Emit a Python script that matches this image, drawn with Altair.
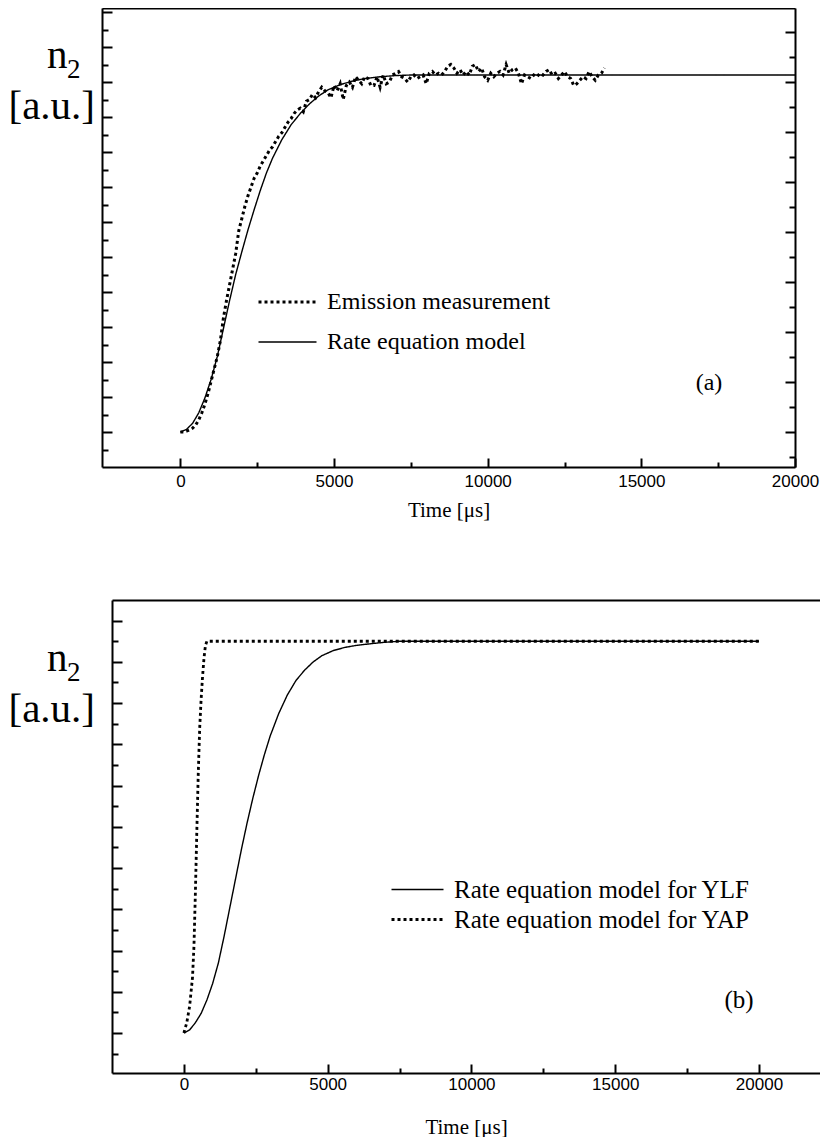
import altair as alt
import pandas as pd

SERIF = "Liberation Serif"
SANS = "Liberation Sans"

# ---------------- Panel (a) data ----------------
SERIES_A = ["Emission measurement", "Rate equation model"]
T_MODEL_A = [0, 200, 400, 600, 800, 1000, 1200, 1400, 1600, 1800, 2000, 2200, 2400, 2600,
             2800, 3000, 3300, 3600, 3900, 4200, 4500, 4800, 5200, 5600, 6000, 6500, 7000,
             7500, 20000]
V_MODEL_A = [0, 0.15, 0.5, 1.1, 1.95, 3.0, 4.3, 5.9, 7.5, 9.0, 10.3, 11.55, 12.7, 13.8,
             14.8, 15.65, 16.7, 17.55, 18.2, 18.75, 19.2, 19.55, 19.85, 20.05, 20.2, 20.3, 20.37,
             20.4, 20.4]
T_MEAS_A = list(range(0, 13801, 100))
V_MEAS_A = [
    0.0, 0.0, 0.05, 0.12, 0.22, 0.4, 0.7, 1.1, 1.6, 2.2,
    2.9, 3.6, 4.3, 5.2, 6.5, 7.5, 8.4, 9.3, 10.2, 11.5,
    12.2, 12.9, 13.5, 14.0, 14.5, 14.8, 15.2, 15.5, 15.8, 16.1,
    16.3, 16.6, 16.9, 17.1, 17.4, 17.7, 17.9, 18.2, 18.4, 18.5,
    18.3, 18.9, 19.0, 19.3, 19.1, 19.45, 19.7, 19.5, 19.4, 19.1,
    19.8, 19.5, 19.9, 19.0, 19.8, 20.0, 19.7, 20.3, 20.1, 19.9,
    20.3, 20.2, 19.8, 19.8, 20.3, 19.7, 20.4, 19.9, 20.0, 20.4,
    20.5, 20.6, 20.3, 20.2, 20.0, 20.3, 20.4, 20.2, 20.3, 20.4,
    19.9, 20.5, 20.6, 20.4, 20.5, 20.4, 20.6, 20.9, 21.0, 20.8,
    20.5, 20.7, 20.4, 20.6, 20.4, 20.9, 21.0, 20.6, 20.8, 20.3,
    20.1, 20.5, 20.3, 20.5, 20.6, 20.4, 21.0, 20.5, 20.7, 20.8,
    20.5, 19.9, 20.4, 20.3, 20.2, 20.4, 20.3, 20.5, 20.4, 20.6,
    20.7, 20.4, 20.5, 20.2, 20.4, 20.6, 20.3, 20.2, 19.8, 19.9,
    20.1, 20.3, 20.2, 20.6, 20.3, 20.1, 20.4, 20.5, 20.8,
]
assert len(T_MEAS_A) == len(V_MEAS_A)

# ---------------- Panel (b) data ----------------
SERIES_B = ["Rate equation model for YLF", "Rate equation model for YAP"]
T_YLF = [0, 200, 400, 600, 800, 1000, 1200, 1400, 1600, 1800, 2000, 2200, 2400, 2600, 2800,
         3000, 3300, 3600, 3900, 4200, 4500, 4800, 5200, 5600, 6000, 6500, 7000, 7500, 20000]
V_YLF = [0, 0.15, 0.5, 0.95, 1.6, 2.4, 3.4, 4.7, 6.1, 7.5, 8.9, 10.2, 11.4, 12.5, 13.5,
         14.4, 15.5, 16.4, 17.1, 17.6, 18.0, 18.3, 18.55, 18.7, 18.8, 18.88, 18.95, 19.0, 19.0]
T_YAP = [0, 100, 200, 300, 350, 400, 450, 500, 550, 600, 650, 700, 750, 800, 20000]
V_YAP = [0, 0.5, 1.3, 2.7, 4.2, 6.8, 9.8, 12.6, 14.8, 16.2, 17.3, 18.2, 18.8, 19.0, 19.0]

# ---------------- axis tick values ----------------
X_LABELS = [0, 5000, 10000, 15000, 20000]
X_TICKS = [0, 2500, 5000, 7500, 10000, 12500, 15000, 17500, 20000]
Y_TICKS_A_LEFT = list(range(-1, 25))
Y_TICKS_A_RIGHT = [round(k * 10 / 7, 4) for k in range(-1, 17)]
Y_TICKS_B_LEFT = list(range(-1, 21))

# ---------------- layout ----------------
WA, HA = 693, 459
WB, HB = 718, 473
XDOM_A = [-2550, 20000]
YDOM_A = [-2.0, 24.23]
XDOM_B = [-2500, 22122]
YDOM_B = [-1.94, 21.0]
XRANGE_A = [0, WA]
XRANGE_B = [10, WB]

df_a = pd.concat([
    pd.DataFrame({"t": T_MEAS_A, "v": V_MEAS_A, "curve_a": SERIES_A[0]}),
    pd.DataFrame({"t": T_MODEL_A, "v": V_MODEL_A, "curve_a": SERIES_A[1]}),
], ignore_index=True)
df_b = pd.concat([
    pd.DataFrame({"t": T_YLF, "v": V_YLF, "curve_b": SERIES_B[0]}),
    pd.DataFrame({"t": T_YAP, "v": V_YAP, "curve_b": SERIES_B[1]}),
], ignore_index=True)


def cond(test, big, small):
    return {"condition": {"test": test, "value": big}, "value": small}


def text_layer(label, x, y, size, align="left", baseline="alphabetic"):
    return alt.Chart(pd.DataFrame({"label": [label]})).mark_text(
        font=SERIF, fontSize=size, align=align, baseline=baseline, color="black"
    ).encode(x=alt.value(x), y=alt.value(y), text="label:N")


def panel(df, field, series, dash_range, width_range, W, H, xdom, xrange, ydom,
          left_vals, right_vals, legend, width_legend, label_pad, title_pad, texts, right_frame):
    xs = alt.Scale(domain=xdom, range=xrange, nice=False, zero=False)
    ys = alt.Scale(domain=ydom, nice=False, zero=False)
    base = alt.Chart(df)

    bottom_axis = alt.Axis(
        orient="bottom", values=X_LABELS, format="d", ticks=False, labelPadding=label_pad,
        labelFont=SANS, labelFontSize=17, labelColor="black", labelFlush=False,
        labelOverlap=False, domain=True, domainColor="black", domainWidth=2, grid=False,
        title="Time [μs]", titleFont=SERIF, titleFontSize=21, titleFontWeight="normal",
        titleColor="black", titlePadding=title_pad, minExtent=0,
    )
    left_axis = alt.Axis(
        orient="right", offset=xrange[0] - W, values=left_vals, labels=False, grid=False,
        domain=True, domainColor="black", domainWidth=2, tickColor="black", tickWidth=2,
        tickSize=cond("datum.value % 2 === 0", 10, 6), title=None, minExtent=0,
    )
    tick_x_axis = alt.Axis(
        orient="top", offset=-H, values=X_TICKS, labels=False, domain=False, grid=False,
        tickColor="black", tickWidth=2, tickSize=cond("datum.value % 5000 === 0", 9, 5),
        title=None, minExtent=0,
    )
    top_axis = alt.Axis(
        orient="top", values=X_TICKS, labels=False, ticks=False, domain=True,
        domainColor="black", domainWidth=2, grid=False, title=None, minExtent=0,
    )
    if right_frame:
        right_axis = alt.Axis(
            orient="left", offset=-W, values=right_vals, labels=False, grid=False,
            domain=True, domainColor="black", domainWidth=2, tickColor="black", tickWidth=2,
            tickSize=cond("abs(round(datum.value * 0.7)) % 2 === 0", 10, 6),
            title=None, minExtent=0,
        )
    else:
        right_axis = None

    lines = base.mark_line(color="black", strokeCap="butt").encode(
        x=alt.X("t:Q", scale=xs, axis=bottom_axis),
        y=alt.Y("v:Q", scale=ys, axis=left_axis),
        strokeDash=alt.StrokeDash(f"{field}:N", scale=alt.Scale(domain=series, range=dash_range),
                                  legend=legend),
        strokeWidth=alt.StrokeWidth(f"{field}:N",
                                    scale=alt.Scale(domain=series, range=width_range),
                                    legend=width_legend),
    )
    helper1 = base.mark_line(strokeOpacity=0).encode(
        x=alt.X("t:Q", scale=xs, axis=tick_x_axis),
        y=alt.Y("v:Q", scale=ys, axis=right_axis),
    )
    helper2 = base.mark_line(strokeOpacity=0).encode(
        x=alt.X("t:Q", scale=xs, axis=top_axis),
        y=alt.Y("v:Q", scale=ys, axis=None),
    )
    return alt.layer(lines, helper1, helper2, *texts).resolve_axis(
        x="independent", y="independent"
    ).properties(width=W, height=H)


legend_a = alt.Legend(
    orient="none", legendX=155, legendY=282, title=None, symbolType="stroke",
    symbolSize=3364, symbolStrokeColor="black", clipHeight=24,
    rowPadding=16, labelFont=SERIF, labelFontSize=24, labelColor="black", labelOffset=9,
    labelLimit=500, padding=0,
)
legend_b = alt.Legend(
    orient="none", legendX=288, legendY=277, title=None, symbolType="stroke",
    symbolSize=2704, symbolStrokeWidth=1.4, symbolStrokeColor="black", clipHeight=25,
    rowPadding=4, labelFont=SERIF, labelFontSize=25, labelColor="black", labelOffset=9,
    labelLimit=500, padding=0,
)

texts_a = [
    text_layer("n", -55, 60, 41),
    text_layer("2", -35, 70, 27),
    text_layer("[a.u.]", -7, 99, 41, align="right", baseline="middle"),
    text_layer("(a)", 607, 375, 24, align="center", baseline="middle"),
]
texts_b = [
    text_layer("n", -55, 71, 41),
    text_layer("2", -35, 81, 27),
    text_layer("[a.u.]", -7, 110, 41, align="right", baseline="middle"),
    text_layer("(b)", 637, 400, 25, align="center", baseline="middle"),
]

chart_a = panel(df_a, "curve_a", SERIES_A, [[3, 3], [1, 0]], [3, 1.4], WA, HA, XDOM_A,
                XRANGE_A, YDOM_A, Y_TICKS_A_LEFT, Y_TICKS_A_RIGHT, legend_a, legend_a, 6, 10,
                texts_a, True)
chart_b = panel(df_b, "curve_b", SERIES_B, [[1, 0], [3, 3]], [1.4, 2.8], WB, HB, XDOM_B,
                XRANGE_B, YDOM_B, Y_TICKS_B_LEFT, None, legend_b, None, 3, 24, texts_b, False)

chart = alt.vconcat(chart_a, chart_b, spacing=80).resolve_scale(
    strokeDash="independent", strokeWidth="independent"
).resolve_legend(
    strokeDash="independent", strokeWidth="independent"
).properties(
    padding=0, background="white"
).configure_view(stroke=None)

chart.save("out.html", embed_options={"renderer": "svg", "actions": False})
